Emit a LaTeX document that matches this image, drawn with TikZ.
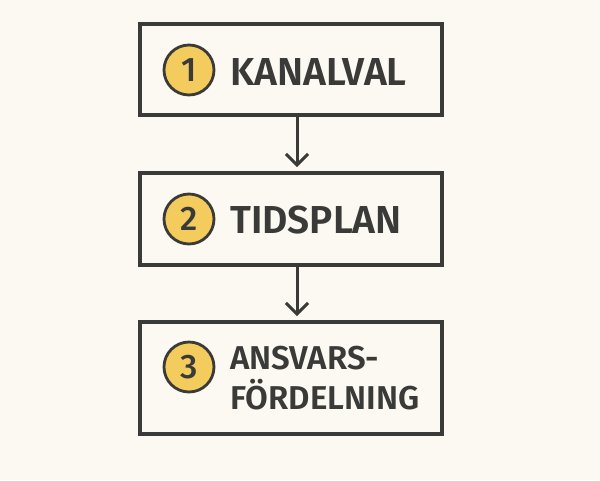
\documentclass[tikz,border=0pt]{standalone}
\usepackage{fontspec}
\setmainfont{Fira Sans}
\newfontfamily\semib{Fira Sans SemiBold}
\newfontfamily\medf{Fira Sans Medium}
\usetikzlibrary{arrows.meta}
\definecolor{bg}{HTML}{FCF9F2}
\definecolor{ink}{HTML}{3A3A38}
\definecolor{badge}{HTML}{F4CC5E}
\begin{document}
\begin{tikzpicture}[x=1pt,y=-1pt,
  stepbox/.style={draw=ink,line width=3.2pt,fill=bg},
  badgec/.style={circle,draw=ink,line width=2.8pt,fill=badge,minimum size=50pt,inner sep=0pt,
    font=\fontsize{34}{34}\selectfont\medf,text=ink},
  lbl/.style={anchor=west,inner sep=0pt,text=ink,font=\fontsize{39}{40}\selectfont\semib},
  lbls/.style={anchor=west,inner sep=0pt,text=ink,align=left,font=\fontsize{33}{40}\selectfont\semib},
  conn/.style={draw=ink,line width=3pt,-{Straight Barb[length=11pt,width=22pt,line width=3pt]}}]
\fill[bg] (0,0) rectangle (600,480);
\useasboundingbox (0,0) rectangle (600,480);
\draw[stepbox] (140,24) rectangle (442,115);
\draw[stepbox] (140,173) rectangle (442,265);
\draw[stepbox] (140,322) rectangle (442,434);
\coordinate (b1) at (297,115);
\coordinate (t2) at (297,167);
\coordinate (b2) at (297,265);
\coordinate (t3) at (297,316);
\node[badgec] (c1) at (189,70) {1};
\node[badgec] (c2) at (189,219) {2};
\node[badgec] (c3) at (189,367) {3};
\node[lbl] (l1) at (230,72) {KANALVAL};
\node[lbl] (l2) at (230,220) {TIDSPLAN};
\node[lbls] (l3) at (230,378) {ANSVARS-\\FÖRDELNING};
\draw[conn] (b1) -- (t2);
\draw[conn] (b2) -- (t3);
\end{tikzpicture}
\end{document}
